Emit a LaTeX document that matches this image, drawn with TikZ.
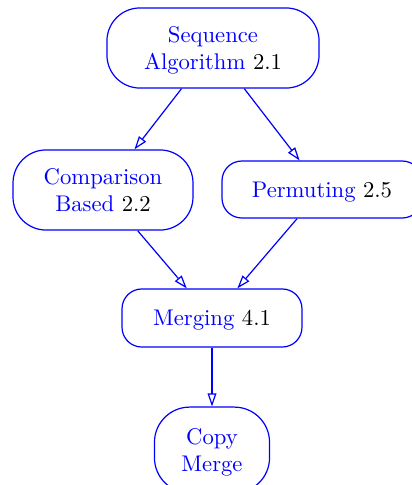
\documentclass[tikz,border=0pt]{standalone}
\usetikzlibrary{arrows.meta}
\begin{document}
\begin{tikzpicture}[x=0.4545pt,y=-0.4545pt,
  topic/.style={draw=blue, text=blue, line width=0.55pt, align=center,
    inner sep=0pt, text depth=0pt, font=\fontsize{10.3}{12.6}\selectfont,
    rounded corners=#1},
  topic/.default=15pt,
  link/.style={draw=blue, line width=0.55pt,
    -{Triangle[open,length=6pt,width=4pt]}}]
  \useasboundingbox (0,0) rectangle (412,485);
  \node[topic, minimum width=96.4pt, minimum height=36.4pt] (seq) at (213,48)
    {Sequence\\Algorithm \textcolor{black}{2.1}};
  \node[topic, minimum width=81.8pt, minimum height=36.4pt] (cmp) at (103,190)
    {Comparison\\Based \textcolor{black}{2.2}};
  \node[topic=9pt, minimum width=90.9pt, minimum height=25.9pt] (perm) at (322,189.5)
    {Permuting \textcolor{black}{2.5}};
  \node[topic=9pt, minimum width=81.8pt, minimum height=26.4pt] (merge) at (212,318)
    {Merging \textcolor{black}{4.1}};
  \node[topic=16pt, minimum width=52.3pt, minimum height=39pt] (copy) at (212,450)
    {Copy\\Merge};
  \draw[link] (seq) -- (cmp);
  \draw[link] (seq) -- (perm);
  \draw[link] (cmp) -- (merge);
  \draw[link] (perm) -- (merge);
  \draw[link] (merge) -- (copy);
\end{tikzpicture}
\end{document}
